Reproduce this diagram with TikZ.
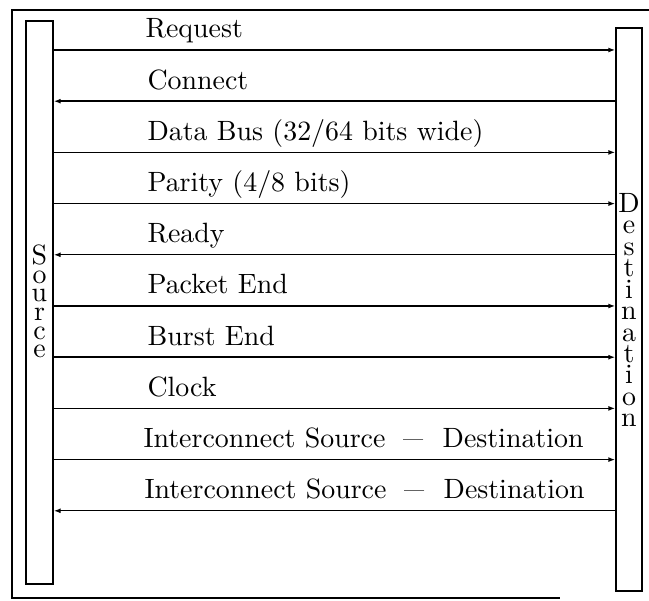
\documentclass[tikz,border=0pt]{standalone}
\usetikzlibrary{arrows.meta}
\newcommand\mytight{\lineskiplimit=-100pt\relax}
\newcommand\mydash{\hspace{6.3pt}\scalebox{0.72}[1]{---}\hspace{7pt}}
\begin{document}
\begin{tikzpicture}[x=1pt,y=-1pt,
  frame/.style={line width=1.3pt},
  bar/.style={draw, line width=1.4pt, inner sep=0pt, minimum height=563pt},
  sig/.style={line width=1.4pt, -{Latex[length=7pt,width=5pt]}},
  big/.style={scale=2.79, transform shape, inner sep=0pt},
  lbl/.style={big, anchor=base west, font={\fontsize{10}{12}\selectfont}},
  vsrc/.style={big, align=center, anchor=center,
    font={\fontsize{10}{6.67}\selectfont\mytight}},
  vdst/.style={big, align=center, anchor=center,
    font={\fontsize{10}{7.7}\selectfont\mytight}}]
\useasboundingbox (0,0) rectangle (649,601);
\draw[frame] (649,10) -- (12,10) -- (12,598) -- (560,598);
\node[bar, minimum width=27pt] (src) at (39.5,302.5) {};
\node[bar, minimum width=26pt] (dst) at (629,309.5) {};
\node[vsrc] (srctxt) at (39.5,301.5) {S\\o\\u\\r\\c\\e};
\node[vdst] (dsttxt) at (629,310) {D\\e\\s\\t\\i\\n\\a\\t\\i\\o\\n};
% signals
\draw[sig] (src.east |- 0,50)    -- (dst.west |- 0,50);
\draw[sig] (dst.west |- 0,101.2) -- (src.east |- 0,101.2);
\draw[sig] (src.east |- 0,152.4) -- (dst.west |- 0,152.4);
\draw[sig] (src.east |- 0,203.6) -- (dst.west |- 0,203.6);
\draw[sig] (dst.west |- 0,254.8) -- (src.east |- 0,254.8);
\draw[sig] (src.east |- 0,306)   -- (dst.west |- 0,306);
\draw[sig] (src.east |- 0,357.2) -- (dst.west |- 0,357.2);
\draw[sig] (src.east |- 0,408.4) -- (dst.west |- 0,408.4);
\draw[sig] (src.east |- 0,459.6) -- (dst.west |- 0,459.6);
\draw[sig] (dst.west |- 0,510.8) -- (src.east |- 0,510.8);
% labels
\node[lbl] (l1) at (145,38) {Request};
\node[lbl] (l2) at (147,89.2) {Connect};
\node[lbl] (l3) at (147,140.4) {Data Bus (32/64 bits wide)};
\node[lbl] (l4) at (147,191.6) {Parity (4/8 bits)};
\node[lbl] (l5) at (147,242.8) {Ready};
\node[lbl] (l6) at (147,294) {Packet End};
\node[lbl] (l7) at (147,345.2) {Burst End};
\node[lbl] (l8) at (147,396.4) {Clock};
\node[lbl] (l9) at (143,447.6) {Interconnect Source\mydash Destination};
\node[lbl] (l10) at (144,498.8) {Interconnect Source\mydash Destination};
\end{tikzpicture}
\end{document}
